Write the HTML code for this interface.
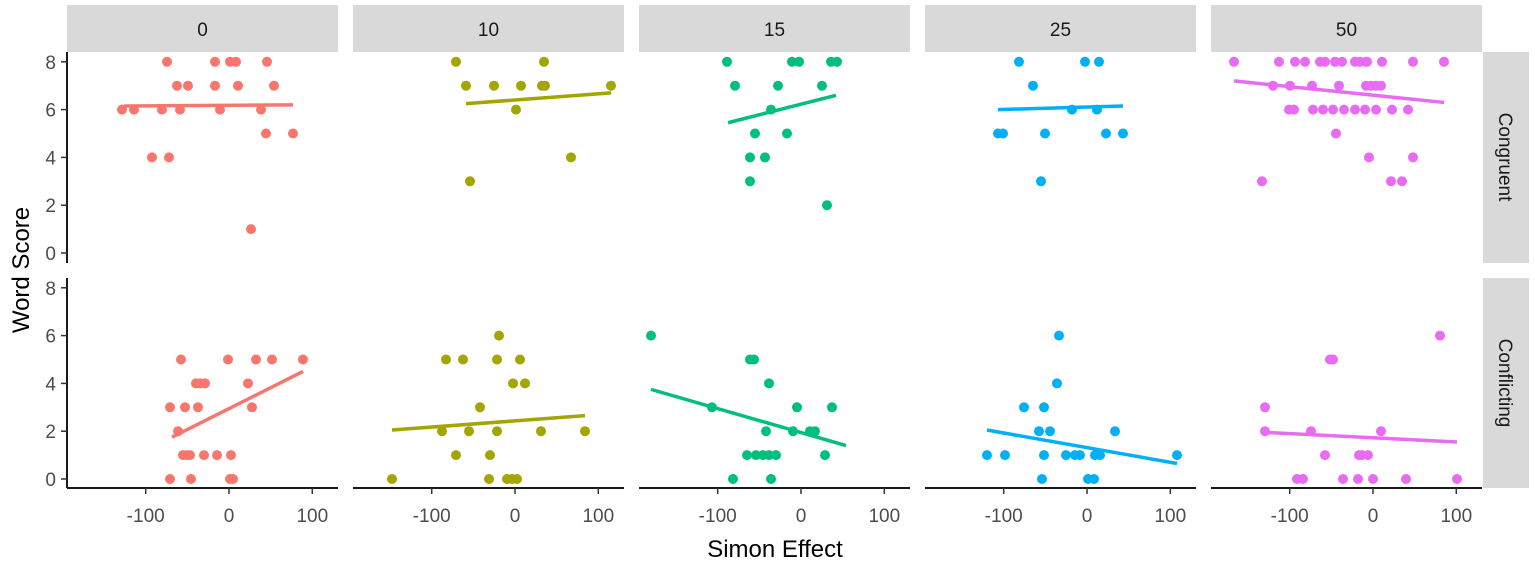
<!DOCTYPE html>
<html><head><meta charset="utf-8"><style>
body{margin:0;background:#fff;}
svg{display:block;font-family:"Liberation Sans",sans-serif;}
</style></head><body>
<svg id="s" width="1535" height="562" xmlns="http://www.w3.org/2000/svg"></svg>
<script>
const s=document.getElementById('s');let h='';
const X0=[67,353,639,925,1211],W=271;
const cols=['#F8766D','#A3A500','#00BF7D','#00B0F6','#E76BF3'];
const labs=['0','10','15','25','50'];
const rows=[{top:52,bot:263,y0:253},{top:278,bot:488,y0:479}];
const U=23.9;
function yy(r,v){return rows[r].y0-v*U;}
const data=[
[{8:[167,215,230,236,267],7:[177,188,215,238,274],6:[122,134,162,180,220,261],5:[266,293],4:[152,169],1:[251]},[124,6.15,293,6.2]],
[{5:[181,228,256,272,303],4:[196,200,205,248],3:[170,185,198,252],2:[178],1:[183,187,190,204,217,231],0:[170,191,230,233]},[172,1.75,303,4.5]],
[{8:[456,544],7:[466,494,521,542,545,611],6:[516],4:[571],3:[470]},[466,6.25,611,6.7]],
[{6:[499],5:[446,463,497,520],4:[513,525],3:[480],2:[442,469,497,541,585],1:[456,490],0:[392,489,507,512,517]},[392,2.05,585,2.65]],
[{8:[727,792,799,831,837],7:[735,778,822],6:[771],5:[755,787],4:[750,765],3:[750],2:[827]},[728,5.45,836,6.6]],
[{6:[651],5:[750,754],4:[769],3:[712,797,832],2:[766,793,810,815],1:[747,756,763,769,776,825],0:[733,771]},[651,3.75,846,1.4]],
[{8:[1019,1085,1099],7:[1033],6:[1072,1097],5:[998,1003,1045,1106,1123],3:[1041]},[998,6,1123,6.15]],
[{6:[1059],4:[1057],3:[1024,1044],2:[1039,1050,1115],1:[987,1005,1044,1066,1075,1080,1095,1100,1177],0:[1042,1088,1094]},[987,2.05,1177,0.65]],
[{8:[1234,1279,1295,1305,1320,1325,1335,1342,1355,1360,1366,1367,1382,1413,1444],7:[1273,1290,1312,1339,1366,1371,1376,1381],6:[1289,1294,1313,1323,1333,1344,1355,1365,1376,1392,1408],5:[1336],4:[1369,1413],3:[1262,1391,1402]},[1234,7.2,1444,6.3]],
[{6:[1440],5:[1330,1333],3:[1265],2:[1265,1311,1381],1:[1325,1359,1362,1368],0:[1297,1303,1343,1358,1373,1406,1457]},[1265,1.95,1457,1.55]]
];
for(let c=0;c<5;c++){
 const x0=X0[c];
 h+=`<rect x="${x0}" y="5" width="${W}" height="47" fill="#d9d9d9"/><text x="${x0+W/2}" y="36" font-size="19" text-anchor="middle" fill="#1a1a1a">${labs[c]}</text>`;
 for(let r=0;r<2;r++){
  const d=data[c*2+r];
  for(const v in d[0]) for(const px of d[0][v]) h+=`<circle cx="${px}" cy="${yy(r,+v)}" r="5" fill="${cols[c]}"/>`;
  const L=d[1];
  h+=`<line x1="${L[0]}" y1="${yy(r,L[1])}" x2="${L[2]}" y2="${yy(r,L[3])}" stroke="${cols[c]}" stroke-width="3.5"/>`;
 }
 h+=`<line x1="${x0}" y1="488" x2="${x0+W}" y2="488" stroke="#1a1a1a" stroke-width="2"/>`;
 for(const t of [-100,0,100]){const tx=x0+162+t*0.833;
  h+=`<line x1="${tx}" y1="488" x2="${tx}" y2="494" stroke="#333" stroke-width="1.5"/><text x="${tx}" y="522" font-size="19" text-anchor="middle" fill="#4d4d4d">${t}</text>`;}
}
for(let r=0;r<2;r++){
 h+=`<line x1="67" y1="${rows[r].top}" x2="67" y2="${rows[r].bot}" stroke="#1a1a1a" stroke-width="2"/>`;
 for(let v=0;v<=8;v+=2){const ty=yy(r,v);
  h+=`<line x1="61" y1="${ty}" x2="67" y2="${ty}" stroke="#333" stroke-width="1.5"/><text x="56" y="${ty+7}" font-size="19" text-anchor="end" fill="#4d4d4d">${v}</text>`;}
}
h+=`<rect x="1483" y="52" width="46" height="211" fill="#d9d9d9"/><text transform="translate(1499,157) rotate(90)" font-size="19" text-anchor="middle" fill="#1a1a1a">Congruent</text>`;
h+=`<rect x="1483" y="278" width="46" height="210" fill="#d9d9d9"/><text transform="translate(1499,383) rotate(90)" font-size="19" text-anchor="middle" fill="#1a1a1a">Conflicting</text>`;
h+=`<text x="775" y="557" font-size="24" text-anchor="middle" fill="#000">Simon Effect</text>`;
h+=`<text transform="translate(29,270) rotate(-90)" font-size="24" text-anchor="middle" fill="#000">Word Score</text>`;
s.innerHTML=h;
</script>
</body></html>
